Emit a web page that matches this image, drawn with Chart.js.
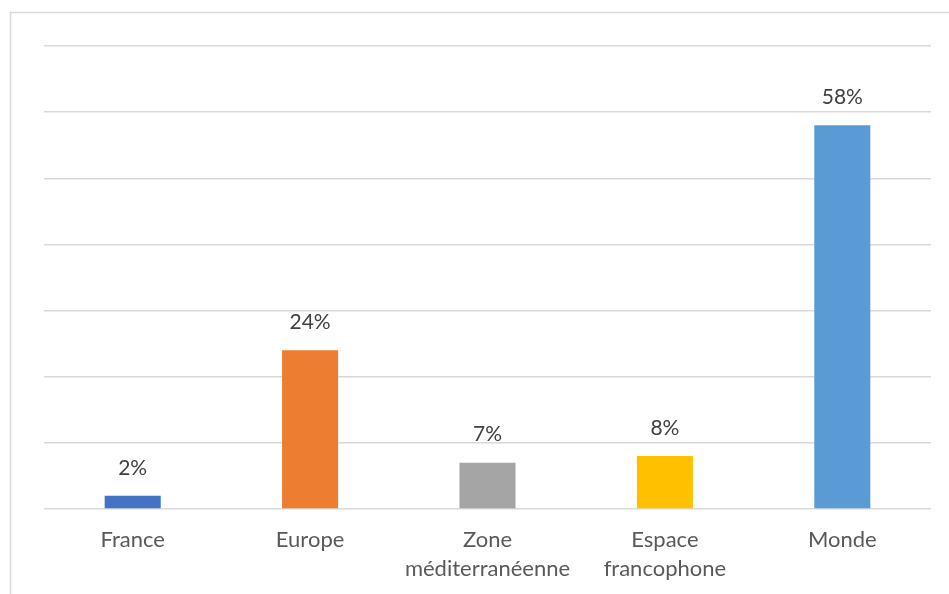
<!DOCTYPE html>
<html lang="fr">
<head>
<meta charset="utf-8">
<title>Répartition par zone</title>
<script src="https://cdn.jsdelivr.net/npm/chart.js@4/dist/chart.umd.min.js"></script>
<style>
    html, body { margin: 0; padding: 0; background: #fff; }
    #wrap { position: relative; width: 949px; height: 594px; }
</style>
</head>
<body>
<div id="wrap"><canvas id="zonesChart" width="949" height="594"></canvas></div>
<script>
// ===================== DONNÉES =====================
const zones = ['France', 'Europe', ['Zone', 'méditerranéenne'], ['Espace', 'francophone'], 'Monde'];
const parts = [2, 24, 7, 8, 58];
const couleurs = ['#4472C4', '#ED7D31', '#A5A5A5', '#FFC000', '#5B9BD5'];
const yMax = 70;
const yPas = 10;

// Cadre gris autour du graphique (bord gauche et haut)
const cadrePlugin = {
    id: 'cadre',
    beforeDraw(chart) {
        const ctx = chart.ctx;
        ctx.save();
        ctx.strokeStyle = '#d9d9d9';
        ctx.lineWidth = 1.5;
        ctx.beginPath();
        ctx.moveTo(10.5, chart.height + 5);
        ctx.lineTo(10.5, 12.5);
        ctx.lineTo(chart.width + 5, 12.5);
        ctx.stroke();
        ctx.restore();
    }
};

// Étiquettes de valeur au-dessus des barres
const etiquettesPlugin = {
    id: 'etiquettes',
    afterDatasetsDraw(chart) {
        const ctx = chart.ctx;
        const meta = chart.getDatasetMeta(0);
        ctx.save();
        ctx.font = '21px Lato, "Open Sans", sans-serif';
        ctx.fillStyle = '#404040';
        ctx.textAlign = 'center';
        ctx.textBaseline = 'middle';
        meta.data.forEach((bar, i) => {
            ctx.fillText(parts[i] + '%', bar.x, bar.y - 28);
        });
        ctx.restore();
    }
};

const ctx = document.getElementById('zonesChart');
new Chart(ctx, {
    type: 'bar',
    data: {
        labels: zones,
        datasets: [{
            data: parts,
            backgroundColor: couleurs,
            categoryPercentage: 1,
            barPercentage: 0.316
        }]
    },
    options: {
        responsive: false,
        animation: false,
        layout: { padding: { left: 44, right: 18, top: 46, bottom: 0 } },
        plugins: {
            legend: { display: false },
            tooltip: { enabled: false }
        },
        scales: {
            x: {
                grid: { display: false, drawTicks: false },
                border: { display: false },
                ticks: {
                    color: '#595959',
                    font: { family: 'Lato, "Open Sans", sans-serif', size: 22, lineHeight: 1.3 },
                    padding: 17,
                    maxRotation: 0,
                    autoSkip: false
                },
                afterFit(scale) { scale.height = 85; }
            },
            y: {
                min: 0,
                max: yMax,
                ticks: { display: false, stepSize: yPas },
                grid: { color: '#d9d9d9', lineWidth: 1.5, drawTicks: false },
                border: { display: false },
                afterFit(scale) { scale.width = 0; }
            }
        }
    },
    plugins: [cadrePlugin, etiquettesPlugin]
});
</script>
</body>
</html>
